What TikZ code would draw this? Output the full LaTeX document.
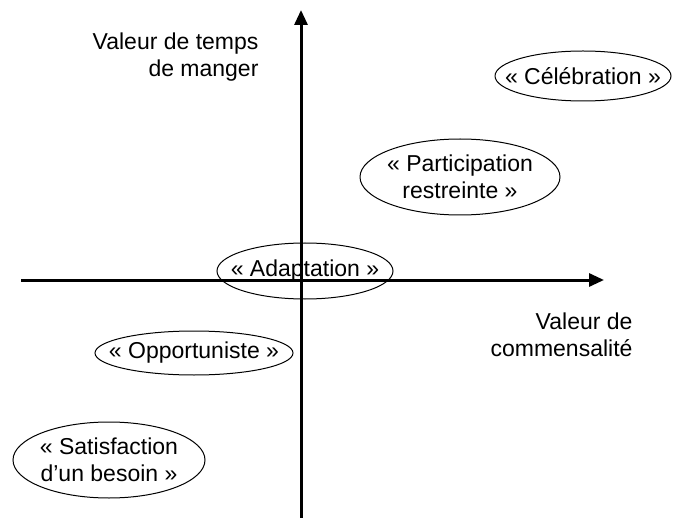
\documentclass[tikz,border=0pt]{standalone}
\usepackage{fontspec}
\setmainfont{Liberation Sans}
\usetikzlibrary{arrows.meta}
\begin{document}
\begin{tikzpicture}[x=1pt,y=-1pt,
  font=\fontsize{23}{27}\selectfont,
  axe/.style={line width=3pt,-{Triangle[length=15pt,width=13pt]}},
  cas/.style={inner sep=0pt,align=center},
  contour/.style={line width=1pt}]
\useasboundingbox (0,0) rectangle (676,518);
\coordinate (ybas) at (301,518);
\coordinate (yhaut) at (301,10);
\coordinate (xgauche) at (21,280);
\coordinate (xdroite) at (604,280);
\draw[axe] (ybas) -- (yhaut);
\draw[axe] (xgauche) -- (xdroite);
\node[align=right,anchor=east] (temps) at (262,57) {Valeur de temps\\de manger};
\node[align=right,anchor=east] (comm) at (636,335) {Valeur de\\commensalité};
% les cinq situations
\node[cas] (celeb) at (583,76) {« Célébration »};
\node[cas] (partic) at (460,177) {« Participation\\restreinte »};
\node[cas] (adapt) at (305,271) {« Adaptation »};
\node[cas] (opport) at (194,353) {« Opportuniste »};
\node[cas] (satisf) at (109,460) {« Satisfaction\\d’un besoin »};
\draw[contour] (celeb) ellipse [x radius=88pt,y radius=25pt];
\draw[contour] (partic) ellipse [x radius=100pt,y radius=38pt];
\draw[contour] (adapt) ellipse [x radius=88pt,y radius=28pt];
\draw[contour] (opport) ellipse [x radius=99pt,y radius=22pt];
\draw[contour] (satisf) ellipse [x radius=96pt,y radius=38pt];
\end{tikzpicture}
\end{document}
